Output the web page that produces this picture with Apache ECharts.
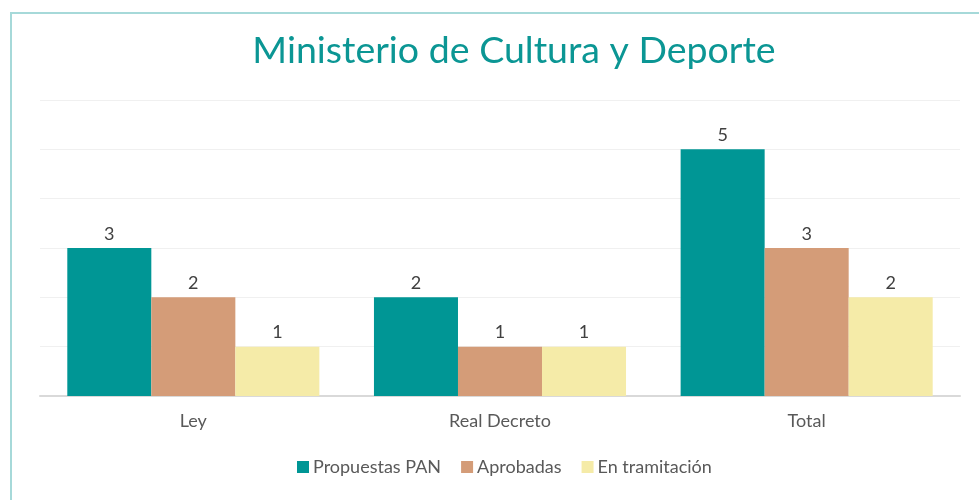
<!DOCTYPE html>
<html>
<head>
<meta charset="utf-8">
<script src="https://cdn.jsdelivr.net/npm/echarts@6/dist/echarts.min.js"></script>
<style>
html,body{margin:0;padding:0;background:#fff;}
#c{width:979px;height:500px;}
</style>
</head>
<body>
<div id="c"></div>
<script>
const categories = ['Ley', 'Real Decreto', 'Total'];
const propuestas = [3, 2, 5];
const aprobadas = [2, 1, 3];
const tramitacion = [1, 1, 2];
const seriesNames = ['Propuestas PAN', 'Aprobadas', 'En tramitación'];
const colors = ['#009695', '#d49c78', '#f5eba8'];

const chart = echarts.init(document.getElementById('c'));
const fontFam = 'Lato, "Open Sans", sans-serif';
const mk = (name, data, color) => ({
  name, type: 'bar', data, barGap: '0%', barCategoryGap: '17.8%',
  itemStyle: {color},
  label: {show: true, position: 'top', distance: 5, color: '#404040', fontSize: 18, fontFamily: fontFam},
  emphasis: {disabled: true}
});
chart.setOption({
  animation: false,
  graphic: [{type: 'rect', shape: {x: 11, y: 13, width: 1200, height: 1000},
    style: {fill: 'none', stroke: '#a6d9d9', lineWidth: 2}, silent: true}],
  title: {text: 'Ministerio de Cultura y Deporte', left: 509, textAlign: 'center', top: 27,
    textStyle: {color: '#0b9694', fontSize: 37.5, fontWeight: 'normal', fontFamily: fontFam}},
  legend: {data: seriesNames, left: 292, orient: 'horizontal', top: 453, itemWidth: 12, itemHeight: 12, itemGap: 20,
    icon: 'rect', textStyle: {color: '#595959', fontSize: 18, fontFamily: fontFam, padding: [0, 0, 0, -1]}},
  grid: {left: 40, right: 19, top: 100, bottom: 104},
  xAxis: {type: 'category', data: categories,
    axisLine: {lineStyle: {color: '#d9d9d9', width: 2}}, axisTick: {show: false},
    axisLabel: {color: '#595959', fontSize: 18, margin: 16, fontFamily: fontFam}},
  yAxis: {type: 'value', min: 0, max: 6, interval: 1, axisLabel: {show: false},
    axisLine: {show: false}, axisTick: {show: false},
    splitLine: {lineStyle: {color: '#f0f0f0', width: 1}}},
  series: [mk(seriesNames[0], propuestas, colors[0]), mk(seriesNames[1], aprobadas, colors[1]), mk(seriesNames[2], tramitacion, colors[2])]
});
</script>
</body>
</html>
